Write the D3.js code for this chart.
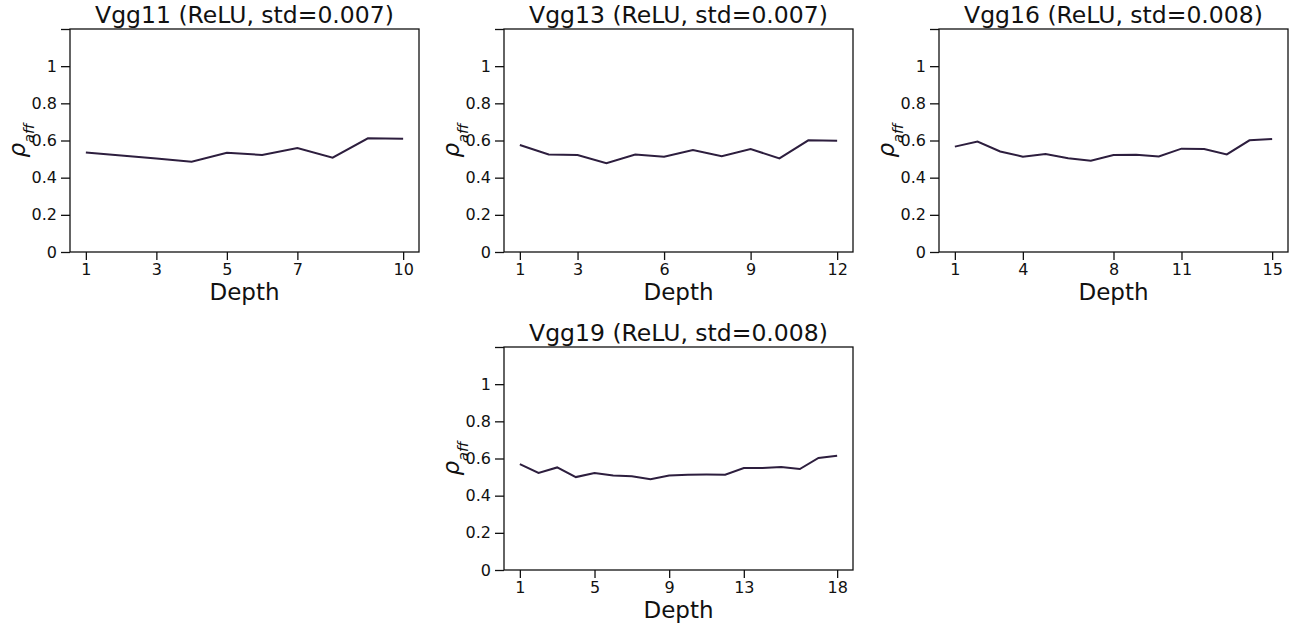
<!DOCTYPE html>
<html>
<head>
<meta charset="utf-8">
<script src="https://cdn.jsdelivr.net/npm/d3@7"></script>
<style>
  body { margin: 0; background: #fff; }
  text { font-family: "DejaVu Sans", sans-serif; fill: #111; }
</style>
</head>
<body>
<div id="chart"></div>
<script>
var svgWidth = 1299;
var svgHeight = 626;

// data
var titles = ["Vgg11 (ReLU, std=0.007)", "Vgg13 (ReLU, std=0.007)",
  "Vgg16 (ReLU, std=0.008)", "Vgg19 (ReLU, std=0.008)"];

var vgg11 = [0.536, 0.519, 0.503, 0.486, 0.534, 0.522, 0.559, 0.508, 0.612, 0.610];
var vgg13 = [0.576, 0.525, 0.522, 0.478, 0.525, 0.513, 0.549, 0.516, 0.554, 0.504, 0.601, 0.599];
var vgg16 = [0.567, 0.594, 0.541, 0.513, 0.527, 0.505, 0.491, 0.522, 0.523, 0.514,
  0.556, 0.554, 0.525, 0.601, 0.608];
var vgg19 = [0.570, 0.522, 0.552, 0.500, 0.522, 0.509, 0.504, 0.489, 0.509, 0.513,
  0.514, 0.513, 0.549, 0.549, 0.554, 0.543, 0.603, 0.615];

var xTicks11 = [1, 3, 5, 7, 10];
var xTicks13 = [1, 3, 6, 9, 12];
var xTicks16 = [1, 4, 8, 11, 15];
var xTicks19 = [1, 5, 9, 13, 18];

var yTicks = [0, 0.2, 0.4, 0.6, 0.8, 1, 1.2];
var yTickLabels = ["0", "0.2", "0.4", "0.6", "0.8", "1", ""];

var series = [vgg11, vgg13, vgg16, vgg19];
var xTickSets = [xTicks11, xTicks13, xTicks16, xTicks19];

// panel boxes (plot area)
var panels = [
  {left: 70, top: 29},
  {left: 504, top: 29},
  {left: 939, top: 29},
  {left: 504, top: 347}
];
var plotW = 349;
var plotH = 223;

var lineColor = "#2d1e3e";

var svg = d3.select("#chart")
  .append("svg")
  .attr("width", svgWidth)
  .attr("height", svgHeight);

panels.forEach(function(p, i) {
  var values = series[i];
  var n = values.length;
  var pad = (n - 1) * 0.05;

  var xScale = d3.scaleLinear()
    .domain([1 - pad, n + pad])
    .range([0, plotW]);

  var yScale = d3.scaleLinear()
    .domain([0, 1.2])
    .range([plotH, 0]);

  var g = svg.append("g")
    .attr("transform", `translate(${p.left}, ${p.top})`);

  // data line
  var line = d3.line()
    .x(function(d, j) { return xScale(j + 1); })
    .y(function(d) { return yScale(d); });

  g.append("path")
    .datum(values)
    .attr("d", line)
    .attr("fill", "none")
    .attr("stroke", lineColor)
    .attr("stroke-width", 2);

  // axes
  var bottomAxis = d3.axisBottom(xScale)
    .tickValues(xTickSets[i])
    .tickFormat(d3.format("d"))
    .tickSize(8)
    .tickPadding(4)
    .tickSizeOuter(0);

  var leftAxis = d3.axisLeft(yScale)
    .tickValues(yTicks)
    .tickFormat(function(d, j) { return yTickLabels[j]; })
    .tickSize(9)
    .tickPadding(4)
    .tickSizeOuter(0);

  var xAxis = g.append("g")
    .attr("transform", `translate(0, ${plotH})`)
    .call(bottomAxis);

  var yAxis = g.append("g")
    .call(leftAxis);

  [xAxis, yAxis].forEach(function(a) {
    a.select(".domain").remove();
    a.selectAll("line").attr("stroke", "#111").attr("stroke-width", 1.3);
    a.selectAll("text")
      .style("font-family", "DejaVu Sans, sans-serif")
      .style("font-size", "16px")
      .attr("fill", "#111");
  });

  // frame
  g.append("rect")
    .attr("width", plotW)
    .attr("height", plotH)
    .attr("fill", "none")
    .attr("stroke", "#111")
    .attr("stroke-width", 1.3);

  // title
  g.append("text")
    .attr("x", plotW / 2)
    .attr("y", -6)
    .attr("text-anchor", "middle")
    .style("font-size", "23.5px")
    .text(titles[i]);

  // x label
  g.append("text")
    .attr("x", plotW / 2)
    .attr("y", plotH + 48)
    .attr("text-anchor", "middle")
    .style("font-size", "23px")
    .text("Depth");

  // y label
  var yl = g.append("text")
    .attr("transform", `translate(-45, ${plotH / 2}) rotate(-90)`)
    .attr("text-anchor", "middle");
  yl.append("tspan")
    .style("font-size", "23px")
    .style("font-style", "italic")
    .text("ρ");
  yl.append("tspan")
    .attr("dy", 9)
    .style("font-size", "14.5px")
    .style("font-style", "italic")
    .text("aff");
});
</script>
</body>
</html>
